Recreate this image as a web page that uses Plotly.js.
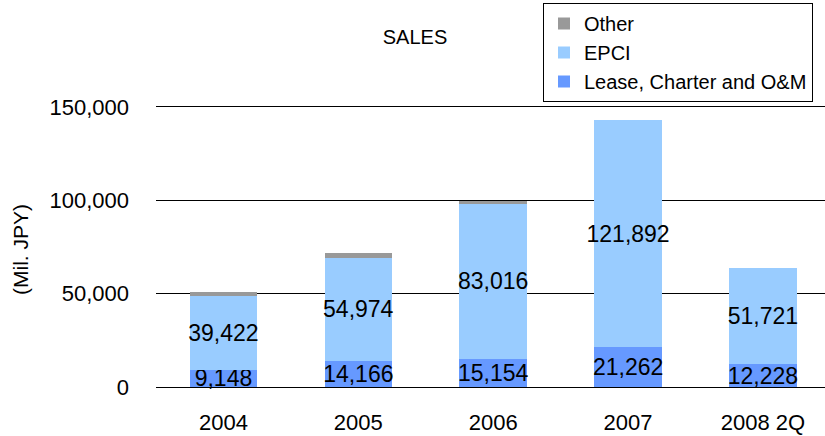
<!DOCTYPE html>
<html>
<head>
<meta charset="utf-8">
<script src="https://cdn.plot.ly/plotly-3.0.1.min.js"></script>
<style>html,body{margin:0;padding:0;background:#fff;}#chart{width:825px;height:436px;}</style>
</head>
<body>
<div id="chart"></div>
<script>
const categories = ["2004", "2005", "2006", "2007", "2008 2Q"];
const leaseCharterOM = [9148, 14166, 15154, 21262, 12228];
const epci = [39422, 54974, 83016, 121892, 51721];
const other = [2300, 2800, 1500, 0, 0];
const yTickValues = [0, 50000, 100000, 150000];
const yTickLabels = ["0", "50,000", "100,000", "150,000"];

const W = 825, H = 436, L = 156, T = 104, B = 49;
const FONT = "Liberation Sans, Arial, sans-serif";

const labelFont = {family: FONT, size: 23, color: "#000"};

const traces = [
  {
    type: "bar", name: "Lease, Charter and O&M", x: categories, y: leaseCharterOM,
    marker: {color: "#6699FF", line: {width: 0}},
    texttemplate: "%{y:,}", textposition: "inside", insidetextanchor: "middle",
    textangle: 0, constraintext: "none", insidetextfont: labelFont, textfont: labelFont,
    hoverinfo: "skip", cliponaxis: false
  },
  {
    type: "bar", name: "EPCI", x: categories, y: epci,
    marker: {color: "#99CCFF", line: {width: 0}},
    texttemplate: "%{y:,}", textposition: "inside", insidetextanchor: "middle",
    textangle: 0, constraintext: "none", insidetextfont: labelFont, textfont: labelFont,
    hoverinfo: "skip", cliponaxis: false
  },
  {
    type: "bar", name: "Other", x: categories, y: other,
    marker: {color: "#999999", line: {width: 0}},
    textposition: "none", hoverinfo: "skip"
  }
];

const layout = {
  width: W, height: H,
  margin: {l: L, r: 0, t: T, b: B, pad: 0, autoexpand: false},
  paper_bgcolor: "#fff", plot_bgcolor: "#fff",
  barmode: "stack", bargap: 0.5,
  showlegend: true,
  font: {family: FONT, color: "#000"},
  title: {
    text: "SALES", font: {family: FONT, size: 20, color: "#000"},
    xref: "container", yref: "container", x: 415 / W, y: 1 - 37 / H,
    xanchor: "center", yanchor: "middle", automargin: false
  },
  legend: {
    xref: "container", yref: "container",
    x: 543 / W, y: 1 - 3 / H, xanchor: "left", yanchor: "top",
    traceorder: "reversed",
    bordercolor: "#000", borderwidth: 1, bgcolor: "#fff",
    font: {family: FONT, size: 20, color: "#000"},
    itemclick: false
  },
  xaxis: {
    type: "category", range: [-0.5, 4.46], automargin: false,
    showgrid: false, showline: true, linecolor: "#000", linewidth: 1,
    ticks: "", tickfont: {family: FONT, size: 22, color: "#000"},
    ticklabelstandoff: 16, zeroline: false, fixedrange: true
  },
  yaxis: {
    range: [0, 151600], tickvals: yTickValues, ticktext: yTickLabels, automargin: false,
    showgrid: true, gridcolor: "#000", gridwidth: 1,
    showline: false, zeroline: false, ticks: "",
    tickfont: {family: FONT, size: 22, color: "#000"},
    ticklabelstandoff: 26, fixedrange: true
  },
  annotations: [{
    text: "(Mil. JPY)", textangle: -90,
    xref: "paper", yref: "paper",
    x: (20 - L) / (W - L), y: (387 - 250) / (387 - T),
    xanchor: "center", yanchor: "middle", showarrow: false,
    font: {family: FONT, size: 21, color: "#000"}
  }]
};

Plotly.newPlot("chart", traces, layout, {staticPlot: true, displayModeBar: false});
</script>
</body>
</html>
